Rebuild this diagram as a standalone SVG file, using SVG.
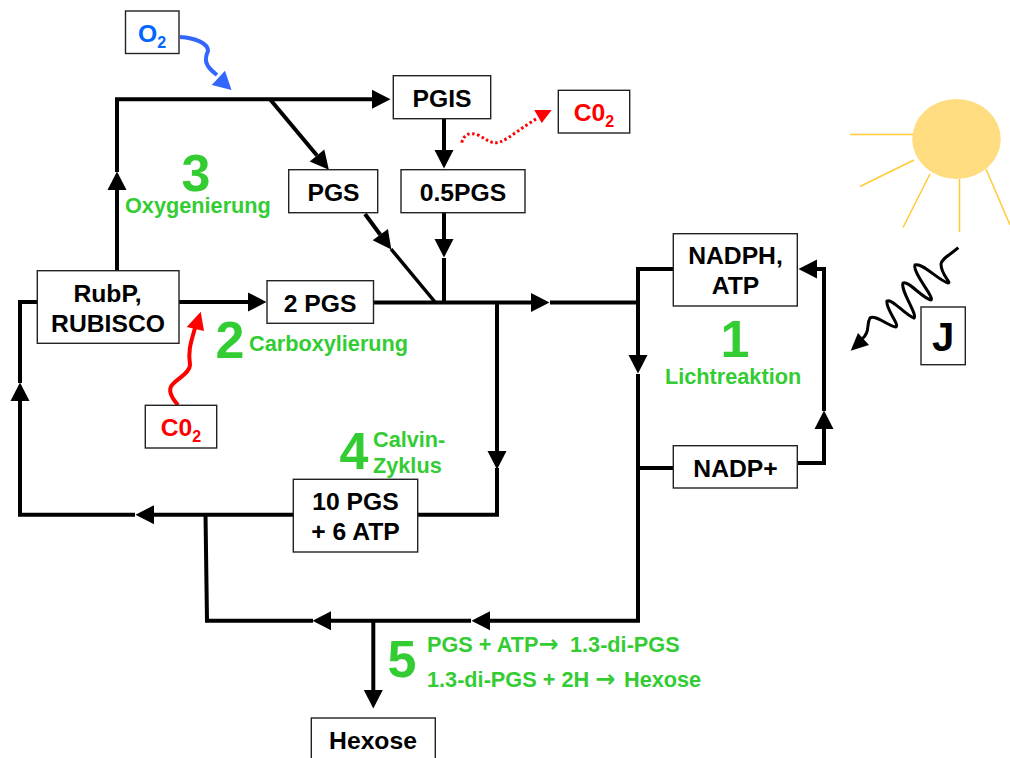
<svg xmlns="http://www.w3.org/2000/svg" width="1010" height="758" viewBox="0 0 1010 758">
<style>
text{font-family:"Liberation Sans",Arial,sans-serif;font-weight:bold}
.box{fill:#fff;stroke:#222;stroke-width:1.4}
.lab{font-size:24.700px;fill:#000;text-anchor:middle}
.num{font-size:52px;fill:#33CC33;text-anchor:middle}
.g{font-size:21.700px;fill:#33CC33}
.arr{font-family:"DejaVu Sans",sans-serif;font-size:24px}
.red{font-size:24.700px;fill:#FF0000;text-anchor:middle}
.sub{font-size:16px}
.c{fill:none;stroke:#000;stroke-width:4;stroke-linecap:butt;stroke-linejoin:miter}
.ray{fill:none;stroke:#FFCC33;stroke-width:1.5}
</style>
<defs>
<marker id="ah" markerUnits="userSpaceOnUse" markerWidth="20" markerHeight="20" viewBox="0 0 19 20" refX="0" refY="10" orient="auto"><path d="M0,0.5 L18.5,10 L0,19.5 Z" fill="#000"/></marker>
</defs>
<g id="sun">
<ellipse cx="956.5" cy="139" rx="44.3" ry="40" fill="#FFDC80"/>
<path class="ray" d="M850,134.5H913M860,186.5L914,160M903,227.5L930,174M959.5,232V179M986,169L1010,225"/>
</g>
<g id="connectors">
<path class="c" d="M117,270V190" marker-end="url(#ah)"/>
<path class="c" d="M117,172V99.3H372" marker-end="url(#ah)"/>
<path class="c" d="M270,99.3L317,155.500" marker-end="url(#ah)"/>
<path class="c" d="M444,118V150" marker-end="url(#ah)"/>
<path class="c" d="M444,213V239" marker-end="url(#ah)"/>
<path class="c" d="M444,258V302"/>
<path class="c" d="M365,214L380.300,234.700" marker-end="url(#ah)"/>
<path d="M391,249L435,302" fill="none" stroke="#000" stroke-width="3.500"/>
<path class="c" d="M179,302H248" marker-end="url(#ah)"/>
<path class="c" d="M373,302.5H531" marker-end="url(#ah)"/>
<path class="c" d="M550,302.5H640"/>
<path class="c" d="M673,269H638V355" marker-end="url(#ah)"/>
<path class="c" d="M638,374V620.7H490" marker-end="url(#ah)"/>
<path class="c" d="M673,468H638"/>
<path class="c" d="M471,620.7H331" marker-end="url(#ah)"/>
<path class="c" d="M313,620.7H207L205.5,514"/>
<path class="c" d="M373.3,620V690" marker-end="url(#ah)"/>
<path class="c" d="M497,302V451" marker-end="url(#ah)"/>
<path class="c" d="M497,468V514.7H417"/>
<path class="c" d="M293,514.7H154" marker-end="url(#ah)"/>
<path class="c" d="M135,514.7H20V401" marker-end="url(#ah)"/>
<path class="c" d="M20,383V302H37"/>
<path class="c" d="M797,463H824V429" marker-end="url(#ah)"/>
<path class="c" d="M824,411V269H817" marker-end="url(#ah)"/>
<path d="M180,37C195,38 208,43 208,51C204,60 205,66 217,75" fill="none" stroke="#3366FF" stroke-width="4"/>
<path d="M231.500,90L211.700,85L225,70.700Z" fill="#3366FF"/>
<path d="M178,405C170,396 168,390 172,385C178,378 190,373 190,365C188,352 190,345 195,328" fill="none" stroke="#FF0000" stroke-width="4"/>
<path d="M200.700,311.700L186.700,327L204,331Z" fill="#FF0000"/>
<path d="M461.700,142.700C464,134 470,132 478,135C486,139 492,145 500,142C510,138 525,125 538,118" fill="none" stroke="#FF0000" stroke-width="3" stroke-dasharray="2.500 2.500"/>
<path d="M551.700,110L534.300,110L541.700,123Z" fill="#FF0000"/>
<path d="M958.300,247.700C950,255 942,258 941,264C941,275 952,283 948,283C938,280 922,262 915,265C912,272 935,298 931,300C922,298 908,280 903,283C900,290 918,315 914,318C905,315 892,298 887,301C885,308 900,325 896,327C888,326 875,314 870,318C866,324 871,332 861,340" fill="none" stroke="#000" stroke-width="3"/>
<path d="M850.700,350.700L858,333L869,345Z" fill="#000"/>
</g>
<g id="o2-top"><rect class="box" x="125.500" y="11" width="53.500" height="42.500"/><text x="138" y="42" font-size="24.700" fill="#0066FF">O<tspan class="sub" dy="6">2</tspan></text></g>
<g id="pgis"><rect class="box" x="393.300" y="75.700" width="97.400" height="43"/><text class="lab" x="442" y="106.700">PGIS</text></g>
<g id="co2-top"><rect class="box" x="558.300" y="90.300" width="71.400" height="42.700"/><text class="red" x="594" y="121">C0<tspan class="sub" dy="6">2</tspan></text></g>
<g id="pgs"><rect class="box" x="288.700" y="169.700" width="89" height="43"/><text class="lab" x="333.500" y="200.500">PGS</text></g>
<g id="pgs05"><rect class="box" x="401" y="169.700" width="124" height="43"/><text class="lab" x="463" y="200.500">0.5PGS</text></g>
<g id="rubp"><rect class="box" x="37.300" y="270.700" width="141.700" height="72.600"/><text class="lab" x="107.500" y="301.500">RubP,</text><text class="lab" x="108" y="331.500">RUBISCO</text></g>
<g id="pgs2"><rect class="box" x="267" y="280.700" width="106.500" height="42.600"/><text class="lab" x="320" y="311.500">2 PGS</text></g>
<g id="nadph"><rect class="box" x="673.300" y="233.700" width="124" height="72.300"/><text class="lab" x="735.500" y="264">NADPH,</text><text class="lab" x="735.500" y="293.500">ATP</text></g>
<g id="nadp"><rect class="box" x="673.300" y="445.700" width="124" height="42.300"/><text class="lab" x="735.500" y="476.500">NADP+</text></g>
<g id="j"><rect class="box" x="921" y="307" width="44.300" height="57.700"/><text x="943" y="351" font-size="40" fill="#000" text-anchor="middle">J</text></g>
<g id="co2-low"><rect class="box" x="145.300" y="405.300" width="71.400" height="42.700"/><text class="red" x="181" y="436">C0<tspan class="sub" dy="6">2</tspan></text></g>
<g id="pgs10"><rect class="box" x="293.300" y="479.300" width="124.400" height="72.700"/><text class="lab" x="355.500" y="509.500">10 PGS</text><text class="lab" x="355.500" y="539.500">+ 6 ATP</text></g>
<g id="hexose"><rect class="box" x="311.300" y="718" width="124" height="50"/><text class="lab" x="373" y="749">Hexose</text></g>
<g id="labels">
<text class="num" x="196" y="190.500">3</text><text class="g" x="125" y="212.500">Oxygenierung</text>
<text class="num" x="230" y="358">2</text><text class="g" x="249" y="351">Carboxylierung</text>
<text class="num" x="735" y="357">1</text><text class="g" x="665" y="384">Lichtreaktion</text>
<text class="num" x="354" y="469">4</text><text class="g" x="373" y="447">Calvin-</text><text class="g" x="373" y="472.500">Zyklus</text>
<text class="num" x="402" y="677">5</text><text class="g" x="427" y="652">PGS + ATP<tspan class="arr">→</tspan><tspan x="570">1.3-di-PGS</tspan></text><text class="g" x="427" y="687">1.3-di-PGS + 2H <tspan class="arr">→</tspan><tspan x="624">Hexose</tspan></text>
</g>
</svg>
